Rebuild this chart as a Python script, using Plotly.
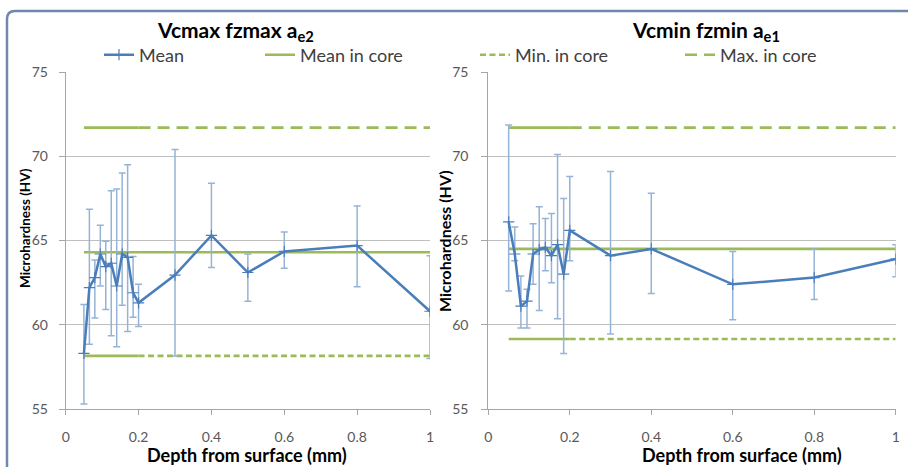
import numpy as np
import plotly.graph_objects as go

# ---------------- data ----------------
depth_left = [0.05, 0.065, 0.08, 0.095, 0.11, 0.125, 0.14, 0.155, 0.17, 0.185, 0.2, 0.3, 0.4, 0.5, 0.6, 0.8, 1.0]
mean_left = [58.3, 62.2, 62.8, 64.2, 63.45, 63.65, 62.3, 64.2, 64.0, 61.9, 61.3, 62.95, 65.3, 63.1, 64.35, 64.7, 60.8]
upper_left = [61.2, 66.85, 63.85, 65.9, 64.95, 67.95, 68.05, 69.0, 69.5, 64.05, 62.4, 70.4, 68.4, 64.2, 65.5, 67.05, 64.1]
lower_left = [55.3, 58.85, 60.4, 62.3, 60.9, 59.35, 58.7, 61.15, 59.6, 60.45, 59.9, 58.15, 63.4, 61.4, 63.35, 62.25, 58.0]
core_left = {"mean": 64.3, "min": 58.15, "max": 71.7}

depth_right = [0.05, 0.065, 0.08, 0.095, 0.11, 0.125, 0.14, 0.155, 0.17, 0.185, 0.2, 0.3, 0.4, 0.6, 0.8, 1.0]
mean_right = [66.1, 64.2, 61.1, 61.4, 64.2, 64.45, 64.6, 64.1, 64.75, 63.0, 65.6, 64.1, 64.5, 62.4, 62.8, 63.9]
upper_right = [71.85, 65.8, 62.9, 62.1, 66.0, 67.0, 66.3, 66.6, 70.1, 67.5, 68.8, 69.1, 67.8, 64.35, 64.5, 64.75]
lower_right = [62.0, 63.8, 59.8, 59.8, 62.4, 60.85, 63.2, 62.5, 60.35, 58.3, 63.8, 59.45, 61.85, 60.3, 61.5, 62.85]
core_right = {"mean": 64.5, "min": 59.15, "max": 71.7}

titles = ["Vcmax fzmax a<sub>e2</sub>", "Vcmin fzmin a<sub>e1</sub>"]
x_title = "Depth from surface (mm)"
y_title = "Microhardness (HV)"
x_ticks = [0, 0.2, 0.4, 0.6, 0.8, 1]
y_ticks = [55, 60, 65, 70, 75]

# ---------------- styles ----------------
W, H = 908, 467
BLUE = "#4A7EBB"
ERR = "#95B3D7"
GREEN = "#9BBB59"
FONT = "Lato"
TICKC = "#595959"

def px(x):
    return x / W

def py(y):
    return 1 - y / H

fig = go.Figure()

panels = [
    (depth_left, mean_left, upper_left, lower_left, core_left, "x", "y"),
    (depth_right, mean_right, upper_right, lower_right, core_right, "x2", "y2"),
]

for i, (d, m, u, l, core, xa, ya) in enumerate(panels):
    d = np.array(d); m = np.array(m); u = np.array(u); l = np.array(l)
    first = i == 0
    fig.add_trace(go.Scatter(x=d, y=np.full(len(d), core["mean"]), mode="lines",
                             line=dict(color=GREEN, width=2.6), name="Mean in core",
                             showlegend=first, legend="legend2", xaxis=xa, yaxis=ya))
    for key, dash, nm, lg in [("min", "6px,3.5px", "Min. in core", "legend3"),
                              ("max", "12px,7px", "Max. in core", "legend4")]:
        near = d <= 0.2
        far = d >= 0.2
        fig.add_trace(go.Scatter(x=d[near], y=np.full(near.sum(), core[key]), mode="lines",
                                 line=dict(color=GREEN, width=2.6), showlegend=False,
                                 xaxis=xa, yaxis=ya, hoverinfo="skip"))
        fig.add_trace(go.Scatter(x=d[far], y=np.full(far.sum(), core[key]), mode="lines",
                                 line=dict(color=GREEN, width=2.6, dash=dash), name=nm,
                                 showlegend=first, legend=lg, xaxis=xa, yaxis=ya))
    fig.add_trace(go.Scatter(x=d, y=m, mode="lines+markers", name="Mean",
                             line=dict(color=BLUE, width=2.5),
                             marker=dict(symbol="cross-thin", size=8, line=dict(color=BLUE, width=1.2)),
                             error_y=dict(type="data", symmetric=False, array=u - m, arrayminus=m - l,
                                          color=ERR, thickness=1.5, width=3.5),
                             showlegend=first, legend="legend", xaxis=xa, yaxis=ya))

axis_common = dict(range=[0, 1], tickvals=x_ticks, showgrid=False, showline=True,
                   linecolor="#A6A6A6", linewidth=1, ticks="outside", ticklen=5,
                   tickcolor="#A6A6A6", tickfont=dict(family=FONT, size=14, color=TICKC),
                   ticklabelstandoff=10, zeroline=False, fixedrange=True, automargin=False)
yaxis_common = dict(range=[55, 75], tickvals=y_ticks, showgrid=True, gridcolor="#BFBFBF",
                    gridwidth=1, showline=True, linecolor="#A6A6A6", linewidth=1,
                    ticks="outside", ticklen=6, tickcolor="#A6A6A6",
                    tickfont=dict(family=FONT, size=14, color=TICKC), zeroline=False,
                    fixedrange=True, automargin=False)

fig.update_layout(
    template="none",
    width=W, height=H, autosize=False,
    margin=dict(l=0, r=0, t=0, b=0, pad=0, autoexpand=False),
    paper_bgcolor="white", plot_bgcolor="white",
    xaxis=dict(domain=[px(65.7), px(430)], anchor="y", **axis_common),
    yaxis=dict(domain=[py(409), py(72)], anchor="x", ticklabelstandoff=8, **yaxis_common),
    xaxis2=dict(domain=[px(488.3), px(895.7)], anchor="y2", **axis_common),
    yaxis2=dict(domain=[py(409), py(72)], anchor="x2", ticklabelstandoff=10, **yaxis_common),
    showlegend=True,
)

leg_font = dict(family=FONT, size=18, color="#404040")
leg_pos = {"legend": 99, "legend2": 260, "legend3": 475, "legend4": 680}
for k, xpix in leg_pos.items():
    fig.update_layout({k: dict(x=px(xpix), y=py(55), xanchor="left", yanchor="middle",
                               orientation="h", bgcolor="rgba(0,0,0,0)", borderwidth=0,
                               font=leg_font, itemclick=False, itemdoubleclick=False)})

ann = []
for txt, xc in zip(titles, [235, 706]):
    ann.append(dict(text=f"<b>{txt}</b>", x=px(xc), y=py(31), xref="paper", yref="paper",
                    showarrow=False, font=dict(family=FONT, size=21, color="black"),
                    xanchor="center", yanchor="middle"))
for xc in [247, 742]:
    ann.append(dict(text=f"<b>{x_title}</b>", x=px(xc), y=py(455), xref="paper", yref="paper",
                    showarrow=False, font=dict(family=FONT, size=18, color="black"),
                    xanchor="center", yanchor="middle"))
for xc, yc, fs in [(25, 228, 13.5), (444, 241, 16)]:
    ann.append(dict(text=f"<b>{y_title}</b>", x=px(xc), y=py(yc), xref="paper", yref="paper",
                    showarrow=False, textangle=-90, font=dict(family=FONT, size=fs, color="black"),
                    xanchor="center", yanchor="middle"))
fig.update_layout(annotations=ann)

r = 8
fig.add_shape(type="path", xref="paper", yref="paper",
              path=(f"M {px(7)},{py(H + 10)} L {px(7)},{py(11 + r)} "
                    f"Q {px(7)},{py(11)} {px(7 + r)},{py(11)} L {px(W + 10)},{py(11)}"),
              line=dict(color="#6F89AE", width=2.5), layer="above")

fig.write_html("out.html", config={"displayModeBar": False},
               post_script="document.body.style.margin='0px';document.body.style.overflow='hidden';")
